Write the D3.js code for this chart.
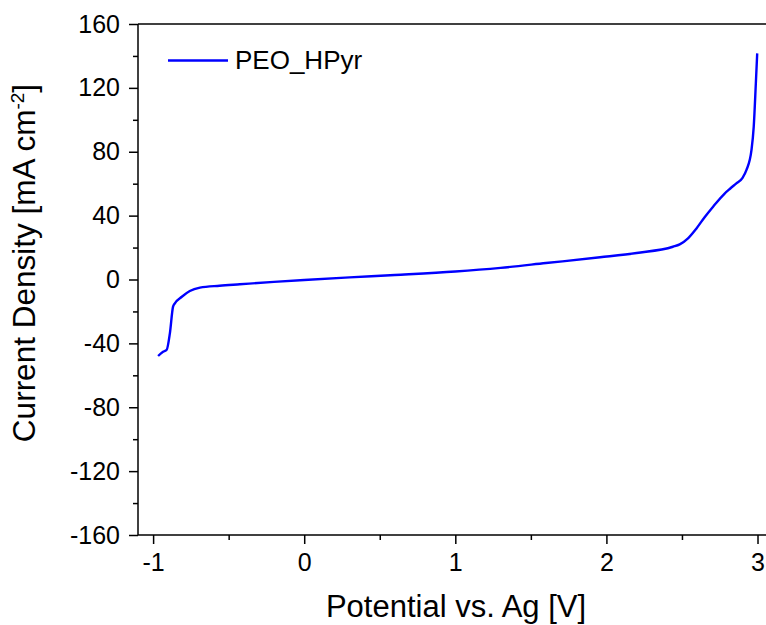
<!DOCTYPE html>
<html><head><meta charset="utf-8">
<script src="https://cdn.jsdelivr.net/npm/d3@7"></script>
<style>body{margin:0;background:#fff}svg{display:block}text{font-family:"Liberation Sans",Arial,sans-serif;fill:#000}</style>
</head><body>
<svg id="c" width="766" height="625"></svg>
<script>
const seriesName = "PEO_HPyr";
const potential = [-0.967,-0.934,-0.91,-0.889,-0.868,-0.856,-0.81,-0.757,-0.69,-0.56,-0.426,-0.2,0,0.3,0.6,1.0,1.3,1.6,1.958,2.2,2.44,2.485,2.54,2.596,2.65,2.706,2.784,2.82,2.86,2.9,2.927,2.96,2.975,2.989,2.998];
const current   = [-47.9,-45.2,-44,-33.7,-17,-14.9,-10.8,-7.2,-5.1,-3.9,-3.0,-1.5,-0.3,1.3,2.8,5,7.3,10.3,13.9,16.6,20.5,22,25.8,32,39,45.6,54,57,60.2,63.5,68.6,81,95.7,122.9,141.6];
const xTicks = [-1,0,1,2,3];
const yTicks = [-160,-120,-80,-40,0,40,80,120,160];
const xMinor = [-0.5,0.5,1.5,2.5];
const yMinor = [-140,-100,-60,-20,20,60,100,140];

const svg = d3.select("#c");
const L=138, T=24, B=535;
const x = d3.scaleLinear().domain([-1.1,3.1]).range([L, L + 4.2*151.1]);
const y = d3.scaleLinear().domain([-160,160]).range([B,T]);
const R = x(3.1);
const fmt = d => String(d);

// frame
svg.append("line").attr("x1",L).attr("x2",R).attr("y1",T).attr("y2",T).attr("stroke","#000").attr("stroke-width",1.5);
svg.append("line").attr("x1",R).attr("x2",R).attr("y1",T).attr("y2",B).attr("stroke","#000").attr("stroke-width",1.5);

const xa = svg.append("g").attr("transform",`translate(0,${B})`)
  .call(d3.axisBottom(x).tickValues(xTicks).tickSize(9).tickPadding(9).tickFormat(fmt));
const xm = svg.append("g").attr("transform",`translate(0,${B})`)
  .call(d3.axisBottom(x).tickValues(xMinor).tickSize(5).tickFormat(""));
const ya = svg.append("g").attr("transform",`translate(${L},0)`)
  .call(d3.axisLeft(y).tickValues(yTicks).tickSize(9).tickPadding(9).tickFormat(fmt));
const ym = svg.append("g").attr("transform",`translate(${L},0)`)
  .call(d3.axisLeft(y).tickValues(yMinor).tickSize(5).tickFormat(""));
[xa,xm,ya,ym].forEach(g=>{
  g.selectAll("path").attr("stroke","#000").attr("stroke-width",1.5);
  g.selectAll("line").attr("stroke","#000").attr("stroke-width",1.5);
  g.selectAll("text").attr("font-size",25).attr("font-family",'"Liberation Sans",Arial,sans-serif').attr("fill","#000");
});
xa.select(".domain").attr("d",`M${L},0H${R}`);
ya.select(".domain").attr("d",`M0,${T}V${B}`);
xm.select(".domain").remove(); ym.select(".domain").remove();

// curve
const data = potential.map((v,i)=>[v,current[i]]);
svg.append("path").datum(data)
  .attr("fill","none").attr("stroke","#0000ff").attr("stroke-width",2.4)
  .attr("stroke-linejoin","round")
  .attr("d", d3.line().x(d=>x(d[0])).y(d=>y(d[1])).curve(d3.curveMonotoneX));

// legend
svg.append("line").attr("x1",168).attr("x2",228).attr("y1",60.5).attr("y2",60.5).attr("stroke","#0000ff").attr("stroke-width",2.4);
svg.append("text").attr("x",235).attr("y",69).attr("font-size",26).text(seriesName);

// axis titles
svg.append("text").attr("x",456).attr("y",617).attr("text-anchor","middle").attr("font-size",31).text("Potential vs. Ag [V]");
const yt = svg.append("text").attr("transform","translate(35,263) rotate(-90)").attr("text-anchor","middle").attr("font-size",31.5);
yt.append("tspan").text("Current Density [mA cm");
yt.append("tspan").attr("font-size",19).attr("dy",-11).text("-2");
yt.append("tspan").attr("dy",11).text("]");
</script>
</body></html>
